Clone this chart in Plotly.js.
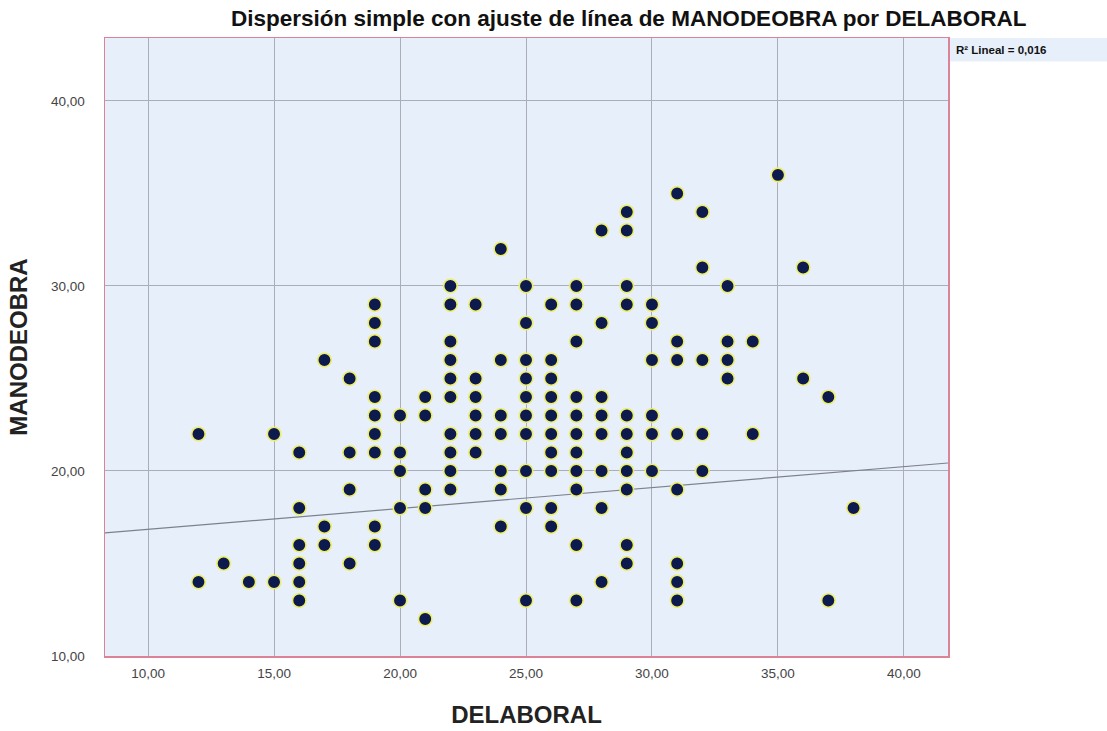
<!DOCTYPE html>
<html><head><meta charset="utf-8">
<script src="https://cdn.plot.ly/plotly-3.0.1.min.js"></script>
<style>body{margin:0;background:#fff}#c{width:1107px;height:731px}</style>
</head><body><div id="c"></div>
<script>
// DELABORAL values with their MANODEOBRA values (grouped by DELABORAL)
const delaboral = [12,12,13,14,15,15,16,16,16,16,16,16,17,17,17,18,18,18,18,
19,19,19,19,19,19,19,19,19,20,20,20,20,20,21,21,21,21,21,
22,22,22,22,22,22,22,22,22,22,23,23,23,23,23,23,24,24,24,24,24,24,24,
25,25,25,25,25,25,25,25,25,25,26,26,26,26,26,26,26,26,26,26,
27,27,27,27,27,27,27,27,27,27,27,28,28,28,28,28,28,28,28,
29,29,29,29,29,29,29,29,29,29,29,30,30,30,30,30,30,
31,31,31,31,31,31,31,31,32,32,32,32,32,33,33,33,33,34,34,35,36,36,37,37,38];
const manodeobra = [22,14,15,14,22,14,21,18,16,15,14,13,26,17,16,25,21,19,15,
29,28,27,24,23,22,21,17,16,23,21,20,18,13,24,23,19,18,12,
30,29,27,26,25,24,22,21,20,19,29,25,24,23,22,21,32,26,23,22,20,19,17,
30,28,26,25,24,23,22,20,18,13,29,26,25,24,23,22,21,20,18,17,
30,29,27,24,23,22,21,20,19,16,13,33,28,24,23,22,20,18,14,
34,33,30,29,23,22,21,20,19,16,15,29,28,26,23,22,20,
35,27,26,22,19,15,14,13,34,31,26,22,20,30,27,26,25,27,22,36,31,25,24,13,18];
// fitted line (endpoints at the plot edges) and its R²
const fitX = [8.29, 41.75];
const fitY = [16.65, 20.43];
const r2Label = 'R² Lineal = 0,016';
const xTicks = [10,15,20,25,30,35,40];
const yTicks = [10,20,30,40];
const xRange = [8.29, 41.75];
const yRange = [10, 43.4];

const traces=[
 {x:fitX,y:fitY,mode:'lines',line:{color:'#7c828c',width:1.2},hoverinfo:'skip',showlegend:false},
 {x:delaboral,y:manodeobra,mode:'markers',showlegend:false,
  marker:{size:13.5,color:'#0c1a4e',line:{color:'#eeee66',width:1.6}}}
];
const font='Liberation Sans, Arial, sans-serif';
const layout={
 width:1107,height:731,
 margin:{l:105,r:159,t:38,b:75},
 paper_bgcolor:'#ffffff',plot_bgcolor:'#e7effa',
 separators:',.',
 font:{family:font,color:'#222'},
 title:{text:'<b>Dispersión simple con ajuste de línea de MANODEOBRA por DELABORAL</b>',
   font:{size:22.5,family:font,color:'#111'},xref:'container',x:0.568,xanchor:'center',y:0.975,yanchor:'middle'},
 xaxis:{range:xRange,tickvals:xTicks,tickformat:'.2f',showgrid:true,gridcolor:'#a9aeb9',gridwidth:1,
   zeroline:false,showline:true,mirror:true,linecolor:'#de8298',linewidth:1.5,ticks:'',
   ticklabelstandoff:4,
   tickfont:{size:13.5,color:'#444'},
   title:{text:'<b>DELABORAL</b>',font:{size:24,color:'#222'},standoff:26}},
 yaxis:{range:yRange,tickvals:yTicks,tickformat:'.2f',showgrid:true,gridcolor:'#a9aeb9',gridwidth:1,
   zeroline:false,showline:true,mirror:true,linecolor:'#de8298',linewidth:1.5,ticks:'',
   ticklabelstandoff:16,
   tickfont:{size:13.5,color:'#444'},
   title:{text:'<b>MANODEOBRA</b>',font:{size:24,color:'#222'},standoff:16}},
 shapes:[{type:'rect',xref:'paper',yref:'paper',x0:1.0,x1:1.19,y0:0.962,y1:1.0,
   fillcolor:'#e7effa',line:{width:0},layer:'below'}],
 annotations:[{xref:'paper',yref:'paper',x:1.007,y:0.981,xanchor:'left',yanchor:'middle',
   text:'<b>'+r2Label+'</b>',showarrow:false,
   font:{size:11.5,color:'#111',family:font}}]
};
Plotly.newPlot('c',traces,layout,{displayModeBar:false,staticPlot:true});
</script></body></html>
